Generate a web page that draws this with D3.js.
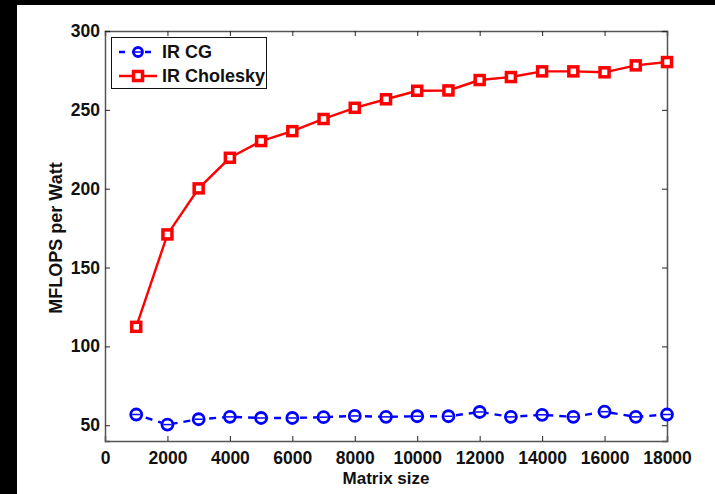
<!DOCTYPE html>
<html>
<head>
    <title>MFLOPS per Watt</title>
    <script src="https://d3js.org/d3.v7.min.js"></script>
    <style>
        body { margin: 0; background: #000; }
        text { font-family: "Liberation Sans", Arial, sans-serif; font-weight: bold; }
    </style>
</head>
<body>
    <script>
        // data
        const sizes = [1000, 2000, 3000, 4000, 5000, 6000, 7000, 8000, 9000,
                       10000, 11000, 12000, 13000, 14000, 15000, 16000, 17000, 18000];
        const irCG = [56.8, 50.4, 53.8, 55.3, 54.6, 54.6, 55.1, 55.9, 55.3,
                      55.7, 55.7, 58.4, 55.3, 56.6, 55.3, 58.6, 55.3, 56.8];
        const irCholesky = [112.4, 171, 200.2, 219.6, 230.2, 236.5, 244.2, 251.3, 256.7,
                            262.1, 262.3, 268.9, 270.8, 274.4, 274.4, 273.8, 278.2, 280.3];
        const xTicks = [0, 2000, 4000, 6000, 8000, 10000, 12000, 14000, 16000, 18000];
        const yTicks = [50, 100, 150, 200, 250, 300];

        const W = 715, H = 494;
        const plot = {left: 105, top: 31, right: 667, bottom: 441};

        const svg = d3.select("body").append("svg")
            .attr("width", W)
            .attr("height", H);

        // white figure area on black
        svg.append("rect").attr("x", 17).attr("y", 5)
            .attr("width", W - 17).attr("height", H - 5)
            .attr("fill", "#fff");

        const x = d3.scaleLinear().domain([0, 18000]).range([plot.left, plot.right]);
        const y = d3.scaleLinear().domain([40, 300]).range([plot.bottom, plot.top]);

        const axisColor = "#555";

        // axes (ticks inward, matlab style)
        const gx = svg.append("g")
            .attr("transform", "translate(0," + plot.bottom + ")")
            .call(d3.axisBottom(x).tickValues(xTicks).tickSize(-5).tickPadding(11).tickFormat(d3.format("d")));
        const gxt = svg.append("g")
            .attr("transform", "translate(0," + plot.top + ")")
            .call(d3.axisTop(x).tickValues(xTicks).tickSize(-5).tickFormat(""));
        const gy = svg.append("g")
            .attr("transform", "translate(" + plot.left + ",0)")
            .call(d3.axisLeft(y).tickValues(yTicks).tickSize(-5).tickPadding(5));
        const gyr = svg.append("g")
            .attr("transform", "translate(" + plot.right + ",0)")
            .call(d3.axisRight(y).tickValues(yTicks).tickSize(-5).tickFormat(""));

        [gx, gxt, gy, gyr].forEach(function(g) {
            g.select(".domain").attr("stroke", axisColor).attr("stroke-width", 1.5);
            g.selectAll(".tick line").attr("stroke", "#222");
            g.selectAll(".tick text").attr("fill", "#111")
                .style("font-size", "17.5px").style("font-family", "'Liberation Sans', Arial, sans-serif")
                .style("font-weight", "bold");
        });

        // axis labels
        svg.append("text")
            .attr("x", 386)
            .attr("y", 484)
            .attr("text-anchor", "middle")
            .style("font-size", "17px")
            .attr("fill", "#111")
            .text("Matrix size");

        svg.append("text")
            .attr("transform", "translate(62,238) rotate(-90)")
            .attr("text-anchor", "middle")
            .style("font-size", "18px")
            .attr("fill", "#111")
            .text("MFLOPS per Watt");

        const line = d3.line()
            .x(function(d, i) { return x(sizes[i]); })
            .y(function(d) { return y(d); });

        // IR Cholesky
        svg.append("path")
            .datum(irCholesky)
            .attr("fill", "none")
            .attr("stroke", "#ff0000")
            .attr("stroke-width", 2.4)
            .attr("d", line);

        svg.selectAll("rect.chol")
            .data(irCholesky)
            .enter().append("rect")
            .attr("class", "chol")
            .attr("x", function(d, i) { return x(sizes[i]) - 4.5; })
            .attr("y", function(d) { return y(d) - 4.5; })
            .attr("width", 9)
            .attr("height", 9)
            .attr("fill", "#fff")
            .attr("stroke", "#ff0000")
            .attr("stroke-width", 3.5);

        // IR CG
        svg.append("path")
            .datum(irCG)
            .attr("fill", "none")
            .attr("stroke", "#0000ff")
            .attr("stroke-width", 2.4)
            .attr("stroke-dasharray", "7,6")
            .attr("stroke-dashoffset", -10)
            .attr("d", line);

        const cg = svg.selectAll("g.cg")
            .data(irCG)
            .enter().append("g")
            .attr("class", "cg")
            .attr("transform", function(d, i) { return "translate(" + x(sizes[i]) + "," + y(d) + ")"; });
        cg.append("circle")
            .attr("r", 5.5)
            .attr("fill", "#fff")
            .attr("stroke", "#0000ff")
            .attr("stroke-width", 2.8);
        cg.append("line")
            .attr("x1", -4).attr("x2", 4)
            .attr("stroke", "#0000ff")
            .attr("stroke-width", 1.5);

        // legend
        const lg = svg.append("g");
        lg.append("rect")
            .attr("x", 111.5).attr("y", 37.5)
            .attr("width", 155).attr("height", 51)
            .attr("fill", "#fff")
            .attr("stroke", "#111")
            .attr("stroke-width", 1);

        lg.append("line")
            .attr("x1", 119).attr("x2", 157).attr("y1", 52).attr("y2", 52)
            .attr("stroke", "#0000ff").attr("stroke-width", 2.4)
            .attr("stroke-dasharray", "6,7");
        lg.append("circle")
            .attr("cx", 138).attr("cy", 52).attr("r", 4.5)
            .attr("fill", "#fff").attr("stroke", "#0000ff").attr("stroke-width", 2.8);
        lg.append("line")
            .attr("x1", 134.5).attr("x2", 141.5).attr("y1", 52).attr("y2", 52)
            .attr("stroke", "#0000ff").attr("stroke-width", 1.5);
        lg.append("text")
            .attr("x", 162).attr("y", 58)
            .style("font-size", "18px").attr("fill", "#111")
            .text("IR CG");

        lg.append("line")
            .attr("x1", 119).attr("x2", 157).attr("y1", 76).attr("y2", 76)
            .attr("stroke", "#ff0000").attr("stroke-width", 2.4);
        lg.append("rect")
            .attr("x", 133.5).attr("y", 71.5).attr("width", 9).attr("height", 9)
            .attr("fill", "#fff").attr("stroke", "#ff0000").attr("stroke-width", 3.5);
        lg.append("text")
            .attr("x", 162).attr("y", 82)
            .style("font-size", "18px").attr("fill", "#111")
            .text("IR Cholesky");
    </script>
</body>
</html>
